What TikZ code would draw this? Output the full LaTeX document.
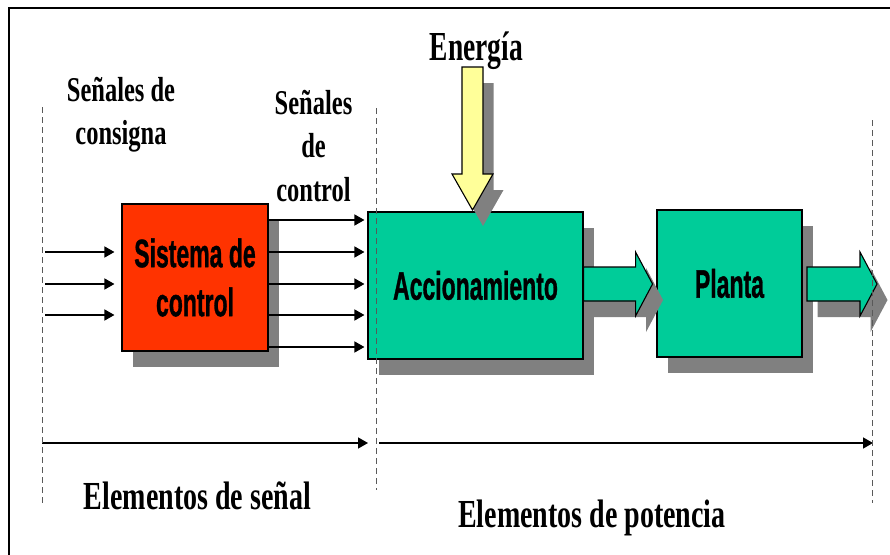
\documentclass[tikz,border=0pt]{standalone}
\usepackage{fontspec}
\setmainfont{Liberation Serif}
\setsansfont{Liberation Sans}[BoldFeatures={FakeBold=1.2}]
\usepackage{graphicx}
\usetikzlibrary{arrows.meta,calc}

\definecolor{rojo}{HTML}{FF3300}
\definecolor{verde}{HTML}{00CC99}
\definecolor{amarillo}{HTML}{FFFF99}
\definecolor{sombra}{HTML}{808080}

\newcommand{\tall}[2][1.42]{\scalebox{1}[#1]{#2}}

\begin{document}
\begin{tikzpicture}
  [x=1pt,y=1pt,
   shadowed/.style={preaction={fill=sombra,draw=none,transform canvas={xshift=10.5pt,yshift=-16pt}}},
   block/.style={draw=black,line width=1.1pt,inner sep=0pt,minimum height=147pt,shadowed,
     font=\sffamily\bfseries\fontsize{23}{49}\selectfont,align=center},
   bigarrow/.style={draw=black,line width=1.1pt,fill=verde,shadowed},
   sig/.style={line width=1.4pt,-{Triangle[length=10pt,width=11pt]}},
   limit/.style={draw=black!65,line width=0.9pt,dash pattern=on 6pt off 4pt},
   etiqueta/.style={font=\bfseries\fontsize{24.5}{43.5}\selectfont,inner sep=0pt,align=center},
   pie/.style={font=\bfseries\fontsize{28}{34}\selectfont,inner sep=0pt,anchor=base}]
  \useasboundingbox (0,0) rectangle (890,-554);
  \clip (0,0) rectangle (890,-554);
  \draw[line width=2.6pt] (9,-8) rectangle (905,-575);

  % bloques
  \node (sistema) [block,fill=rojo,minimum width=146pt] at (195,-277.5) {\tall[1.72]{Sistema de}\\\tall[1.72]{control}};
  \node (accion) [block,fill=verde,minimum width=215pt] at (475.5,-285.5) {\tall[1.72]{Accionamiento}};
  \node (planta) [block,fill=verde,minimum width=145pt] at (729.5,-283.5) {\tall[1.72]{Planta}};

  % senales de consigna y de control
  \foreach \y [count=\i] in {252,284,315}{
    \coordinate (in\i) at (45,-\y);
    \draw[sig,shorten >=7pt] (in\i) -- (sistema.west |- in\i);
  }
  \foreach \y in {220,252,284,315,347}
    \draw[sig,shorten >=3pt] (sistema.east |- 0,-\y) -- (accion.west |- 0,-\y);

  % flujo de potencia
  \coordinate (f1) at (accion.east |- 0,-284);
  \coordinate (f2) at (807,-284);
  \foreach \ini/\len in {f1/69,f2/70}
    \draw[bigarrow] ($(\ini)+(0,17)$) -- ++(\len-17,0) -- ++(0,15) -- ++(17,-32)
      -- ++(-17,-32) -- ++(0,15) -- ++(17-\len,0) -- cycle;

  \coordinate (ent) at (472.5,-67);
  \draw[draw=black,line width=1.1pt,fill=amarillo,shadowed] ($(ent)+(-10.5,0)$) -- ++(21,0)
    -- ++(0,-107) -- ++(10,0) -- ++(-20.5,-36) -- ++(-20.5,36) -- ++(10,0) -- cycle;

  % textos
  \node (energia) [etiqueta,font=\bfseries\fontsize{27.5}{33}\selectfont,anchor=base] at (476.5,-60) {\tall[1.5]{Energía}};
  \node (consigna) [etiqueta,anchor=north] at (121,-77) {\tall{Señales de}\\\tall{consigna}};
  \node (control) [etiqueta,anchor=north] at (313.5,-90) {\tall{Señales}\\\tall{de}\\\tall{control}};
  \node (senal) [pie] at (197.5,-509) {\tall{Elementos de señal}};
  \node (potencia) [pie] at (592,-527) {\tall{Elementos de potencia}};

  % elementos de senal / de potencia
  \coordinate (s0) at (42,-443);
  \coordinate (s1) at (368,-443);
  \coordinate (p0) at (379,-443);
  \coordinate (p1) at (873,-443);
  \draw[sig] (s0) -- (s1);
  \draw[sig] (p0) -- (p1);

  \foreach \x/\a/\b in {42/107/505,376/108/490,872/120/503}
    \draw[limit] (\x,-\a) -- (\x,-\b);
\end{tikzpicture}
\end{document}
